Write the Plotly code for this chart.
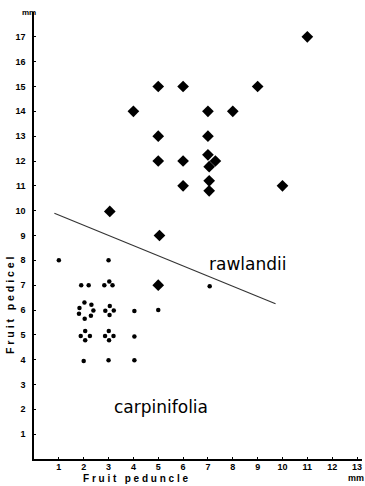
import plotly.graph_objects as go

# rawlandii (large diamonds)
raw_x = [11, 5, 6, 9, 4, 7, 8, 5, 7, 5, 6, 7.0, 7.3, 7.05, 7.05, 7.05, 6, 10, 3.05, 5.05, 5]
raw_y = [17, 15, 15, 15, 14, 14, 14, 13, 13, 12, 12, 12.25, 12, 11.77, 11.2, 10.8, 11, 11, 9.97, 9, 7]

# carpinifolia (small dots)
car_x = [1, 3, 1.9, 2.2, 2.83, 3.03, 3.16, 7.07, 5, 4.04,
         2.03, 2.31, 1.83, 2.39, 1.81, 2.29, 2.04,
         3.05, 2.87, 3.21, 3.04,
         2.06, 1.88, 2.25, 2.06,
         3.01, 2.86, 3.2, 3.02,
         4.04, 2.0, 3.0, 4.04]
car_y = [8, 8, 7, 7, 7, 7.15, 7, 6.96, 6, 5.96,
         6.3, 6.21, 6.08, 5.98, 5.85, 5.77, 5.65,
         6.16, 5.97, 5.98, 5.8,
         5.15, 4.95, 4.95, 4.78,
         5.15, 4.95, 4.95, 4.78,
         4.93, 3.95, 3.98, 3.98]

# separating line
line_x = [0.82, 9.72]
line_y = [9.9, 6.25]

x_ticks = list(range(1, 14))
y_ticks = list(range(1, 18))

W, H = 365, 486
L, R, T, B = 34, 3, 12, 27

fig = go.Figure()
fig.add_trace(go.Scatter(x=line_x, y=line_y, mode="lines",
                         line=dict(color="#333333", width=1.1), hoverinfo="skip"))
fig.add_trace(go.Scatter(x=raw_x, y=raw_y, mode="markers",
                         marker=dict(symbol="diamond", size=9, color="black")))
fig.add_trace(go.Scatter(x=car_x, y=car_y, mode="markers",
                         marker=dict(symbol="circle", size=4.5, color="black")))

tickfont = dict(family="Liberation Sans, Arial, sans-serif", size=9, color="black")

pw = W - L - R
ph = H - T - B
def px(xp):
    return (xp - L) / pw
def py(yp):
    return (H - B - yp) / ph

def note(text, xp, yp, size, angle=0):
    return dict(text=text, x=px(xp), y=py(yp), xref="paper", yref="paper",
                xanchor="center", yanchor="middle", showarrow=False, textangle=angle,
                font=dict(family="Liberation Sans, sans-serif", size=size, color="black"))

fig.update_layout(
    width=W, height=H,
    margin=dict(l=L, r=R, t=T, b=B, autoexpand=False),
    paper_bgcolor="white", plot_bgcolor="white",
    showlegend=False,
    xaxis=dict(range=[0, 13.2], tickvals=x_ticks, ticktext=[f"<b>{v}</b>" for v in x_ticks],
               showgrid=False, zeroline=False, showline=True, linecolor="black", linewidth=1.5,
               ticks="inside", ticklen=2, tickcolor="black", tickfont=tickfont, ticklabelstandoff=-2),
    yaxis=dict(range=[0, 18], tickvals=y_ticks, ticktext=[f"<b>{v}</b>" for v in y_ticks],
               showgrid=False, zeroline=False, showline=True, linecolor="black", linewidth=1.5,
               ticks="inside", ticklen=2, tickcolor="black", tickfont=tickfont, ticklabelstandoff=5),
    annotations=[
        note("<b>F r u i t   p e d u n c l e</b>", 135, 478, 10),
        note("<b>F r u i t   p e d i c e l</b>", 10, 305, 10.5, -90),
        note("<b>mm</b>", 29, 12, 8),
        note("<b>mm</b>", 356, 478, 9),
        dict(text="rawlandii", x=8.6, y=7.85, xref="x", yref="y", showarrow=False,
             font=dict(family="DejaVu Sans, sans-serif", size=17, color="black")),
        dict(text="carpinifolia", x=5.1, y=2.1, xref="x", yref="y", showarrow=False,
             font=dict(family="DejaVu Sans, sans-serif", size=17, color="black")),
    ],
)

fig.write_html("out.html", config={"displayModeBar": False},
               post_script="document.body.style.margin='0';document.body.style.overflow='hidden';")
